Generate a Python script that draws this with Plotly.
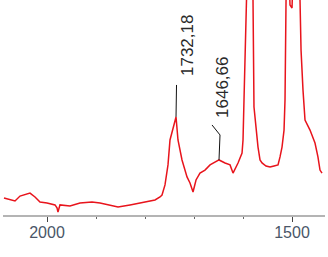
import plotly.graph_objects as go

# Spectrum (wavenumber, cm-1) and signal (arbitrary units)
wavenumber = [2087.8, 2079.6, 2065.3, 2055.1, 2034.7, 2024.5, 2014.3, 2000.0, 1983.7, 1979.6,
              1977.6, 1973.5, 1953.1, 1932.7, 1908.2, 1891.8, 1871.4, 1855.1, 1830.6, 1800.0,
              1779.6, 1769.4, 1765.3, 1759.2, 1753.1, 1749.0, 1742.9, 1736.7, 1732.7, 1724.5,
              1714.3, 1708.2, 1702.0, 1695.9, 1687.8, 1677.6, 1667.3, 1657.1, 1649.0, 1636.7,
              1626.5, 1620.4, 1610.2, 1602.0, 1600.0, 1598.0, 1595.9, 1593.9, 1587.8, 1581.6,
              1579.6, 1577.6, 1573.5, 1569.4, 1565.3, 1561.2, 1553.1, 1544.9, 1536.7, 1528.6,
              1524.5, 1520.4, 1516.3, 1514.3, 1512.2, 1508.2, 1504.1, 1500.0, 1495.9, 1487.8,
              1483.7, 1481.6, 1477.6, 1473.5, 1463.3, 1453.1, 1447.1, 1442.9, 1438.8]
signal = [7.9, 7.4, 6.5, 8.8, 10.2, 8.4, 6.0, 5.6, 4.7, 3.3,
          1.4, 4.7, 4.2, 5.6, 6.0, 5.6, 4.7, 3.7, 4.7, 6.0,
          7.0, 8.4, 9.3, 14.0, 23.3, 34.9, 40.9, 45.6, 34.9, 25.6,
          17.7, 14.9, 10.7, 16.3, 19.5, 20.9, 23.3, 24.7, 25.6, 24.2,
          23.3, 19.5, 24.2, 28.8, 34.9, 53.5, 81.4, 114.0, 146.5, 114.0,
          100.0, 50.2, 39.5, 31.6, 25.6, 24.2, 22.8, 22.3, 22.8, 23.3,
          27.0, 31.6, 39.5, 53.5, 100.0, 127.9, 97.7, 96.3, 127.9, 118.6,
          100.0, 76.7, 58.1, 44.2, 39.5, 33.5, 27.0, 20.9, 19.5]

# Labelled peaks
peak_x = [1736.7, 1649.0]
peak_y = [45.6, 25.6]
peak_labels = ["1732,18", "1646,66"]

fig = go.Figure()
fig.add_trace(go.Scatter(x=wavenumber, y=signal, mode="lines",
                         line=dict(color="#e8141c", width=1.5), hoverinfo="skip"))

# leader lines (pixel offsets relative to peaks)
leaders = [
    [(0, 0, 0.5, 32)],
    [(0, 0, 1, 25), (1, 25, -7, 35)],
]
text_shift = [(12, 71), (4, 72)]
for px_, py_, lab, segs, (xs, ys) in zip(peak_x, peak_y, peak_labels, leaders, text_shift):
    for (x0, y0, x1, y1) in segs:
        fig.add_shape(type="line", xref="x", yref="y", xsizemode="pixel", ysizemode="pixel",
                      xanchor=px_, yanchor=py_, x0=x0, y0=y0, x1=x1, y1=y1,
                      line=dict(color="#111111", width=1))
    fig.add_annotation(x=px_, y=py_, xref="x", yref="y", text=lab, showarrow=False,
                       textangle=-90, xanchor="center", yanchor="middle",
                       xshift=xs, yshift=ys,
                       font=dict(family="Arial, Liberation Sans, sans-serif", size=17, color="#2a2a2a"))

fig.update_layout(
    width=328, height=257,
    margin=dict(l=3, r=3, t=0, b=42),
    paper_bgcolor="white", plot_bgcolor="white",
    showlegend=False,
    xaxis=dict(range=[2089.8, 1432.7], tickmode="linear", tick0=0, dtick=500,
               showgrid=False, zeroline=False,
               showline=True, linecolor="#b4b4b4", linewidth=2,
               ticks="outside", ticklen=5, tickcolor="#444444", tickwidth=1,
               minor=dict(dtick=100, ticks="outside", ticklen=2, tickcolor="#666666", showgrid=False),
               tickfont=dict(family="Arial, Liberation Sans, sans-serif", size=16, color="#4a5668"),
               ticklabelstandoff=-3),
    yaxis=dict(range=[0, 100], visible=False),
)

fig.write_html("out.html", config={"displayModeBar": False, "staticPlot": True},
               post_script="document.body.style.margin='0';document.body.style.overflow='hidden';")
